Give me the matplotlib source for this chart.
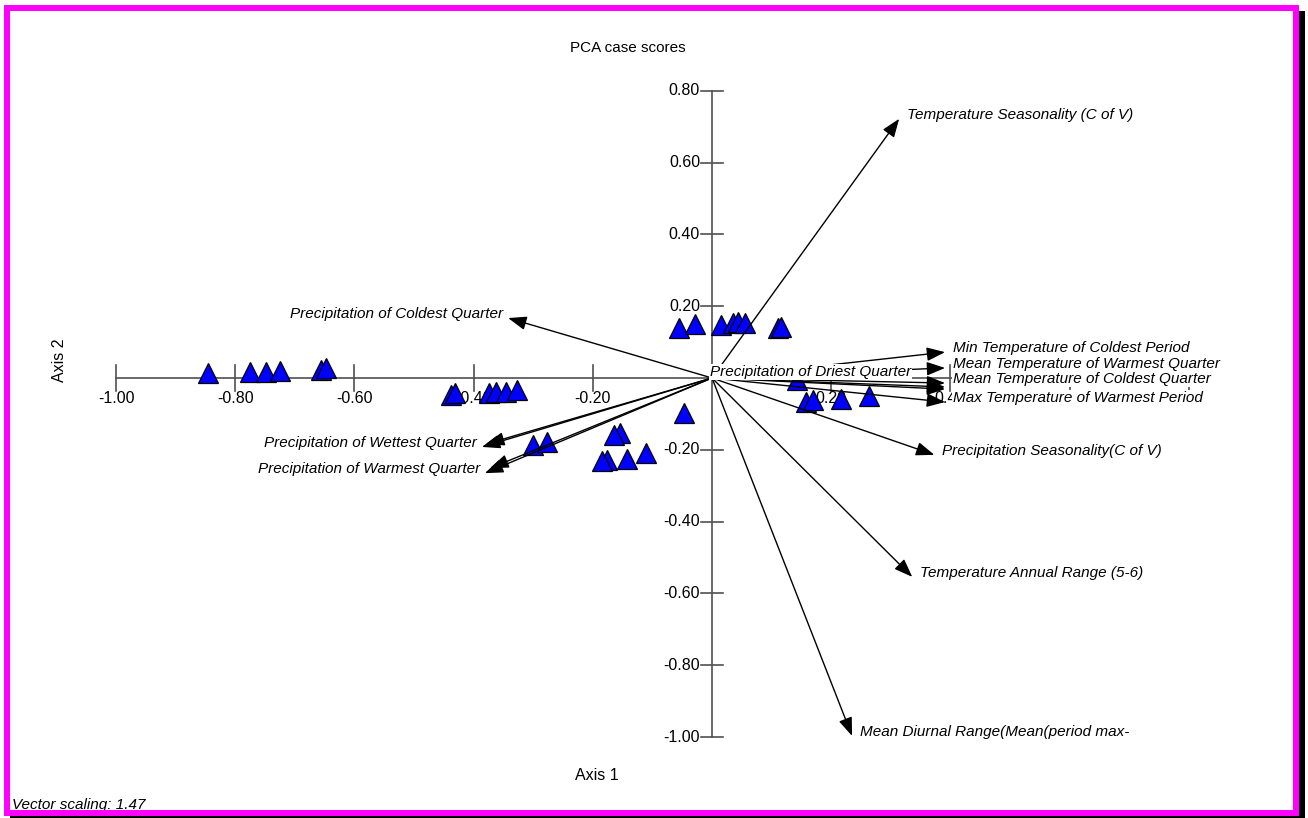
import matplotlib.pyplot as plt
from matplotlib.patches import Rectangle

plt.rcParams['font.family'] = ['Liberation Sans', 'DejaVu Sans']

# PCA case scores (axis 1, axis 2)
score_x = [-0.845, -0.776, -0.749, -0.725, -0.656, -0.648,
           -0.438, -0.432, -0.374, -0.363, -0.346, -0.327,
           -0.300, -0.277, -0.155, -0.164, -0.047, -0.177, -0.184, -0.143, -0.111,
           -0.056, -0.029, 0.015, 0.035, 0.044, 0.056, 0.110, 0.115,
           0.143, 0.158, 0.170, 0.217, 0.263]
score_y = [0.014, 0.017, 0.017, 0.019, 0.022, 0.028,
           -0.047, -0.042, -0.042, -0.039, -0.039, -0.033,
           -0.187, -0.178, -0.153, -0.159, -0.097, -0.228, -0.231, -0.226, -0.209,
           0.139, 0.150, 0.147, 0.153, 0.156, 0.153, 0.139, 0.142,
           -0.006, -0.067, -0.061, -0.058, -0.050]

# environmental vectors (already multiplied by the vector scaling)
vec_names = ['Temperature Seasonality (C of V)',
             'Precipitation of Coldest Quarter',
             'Min Temperature of Coldest Period',
             'Mean Temperature of Warmest Quarter',
             'Mean Temperature of Coldest Quarter',
             '',
             '',
             'Max Temperature of Warmest Period',
             'Precipitation of Driest Quarter',
             'Precipitation Seasonality(C of V)',
             'Temperature Annual Range (5-6)',
             'Mean Diurnal Range(Mean(period max-',
             'Precipitation of Wettest Quarter',
             '',
             'Precipitation of Warmest Quarter',
             '']
vec_x = [0.314, -0.342, 0.391, 0.391, 0.391, 0.391, 0.391, 0.391, -0.017,
         0.373, 0.336, 0.235, -0.386, -0.379, -0.381, -0.372]
vec_y = [0.722, 0.167, 0.072, 0.028, -0.014, -0.025, -0.031, -0.067, 0.005,
         -0.214, -0.554, -0.997, -0.192, -0.184, -0.265, -0.251]

xticks = [-1.0, -0.8, -0.6, -0.4, -0.2, 0.2, 0.4, 0.6, 0.8]
xtick_labels = ['-1.00', '-0.80', '-0.60', '-0.40', '-0.20', '0.20', '0.40', '', '']
yticks = [0.8, 0.6, 0.4, 0.2, -0.2, -0.4, -0.6, -0.8, -1.0]

W, H = 1308, 818
fig = plt.figure(figsize=(W / 100, H / 100), dpi=100)
ax = fig.add_axes([0, 0, 1, 1])
ax.set_xlim((0 - 712) / 596, (W - 712) / 596)
ax.set_ylim((378 - H) / 359, 378 / 359)
ax.axis('off')

axis_col = '#505050'
ax.plot([-1.0, 0.8], [0, 0], color=axis_col, lw=1.2, zorder=1)
ax.plot([0, 0], [-1.0, 0.8], color=axis_col, lw=1.2, zorder=1)
for t, lab in zip(xticks, xtick_labels):
    ax.plot([t, t], [-0.036, 0.036], color=axis_col, lw=1.2, zorder=1)
    ax.text(t, -0.056, lab, ha='center', va='center', fontsize=11.5, zorder=2)
for t in yticks:
    ax.plot([-0.0185, 0.0185], [t, t], color=axis_col, lw=1.2, zorder=1)
    ax.text(-0.020, t, '%.2f' % t, ha='right', va='center', fontsize=11.5, zorder=2)

ax.plot(score_x, score_y, '^', ms=14, mfc='#0000ff', mec='black', mew=0.9, zorder=3)

for name, vx, vy in zip(vec_names, vec_x, vec_y):
    if (vx ** 2 + vy ** 2) ** 0.5 > 0.05:
        ax.annotate('', xy=(vx, vy), xytext=(0, 0),
                    arrowprops=dict(arrowstyle='-|>,head_length=0.8,head_width=0.3',
                                    mutation_scale=14, color='black', lw=1,
                                    shrinkA=0, shrinkB=0), zorder=4)
    if not name:
        continue
    if vx >= -0.02:
        off, ha = (8, 4), 'left'
    else:
        off, ha = (-5, 4), 'right'
    ax.annotate(name, xy=(vx, vy), xytext=off, textcoords='offset pixels',
                ha=ha, va='center', fontsize=11, style='italic', zorder=5,
                bbox=dict(boxstyle='square,pad=0.05', fc='white', ec='none'))

fig.text(628 / W, 1 - 48 / H, 'PCA case scores', ha='center', va='center', fontsize=11)
fig.text(597 / W, 1 - 776 / H, 'Axis 1', ha='center', va='center', fontsize=11.5)
fig.text(60 / W, 1 - 360 / H, 'Axis 2', ha='center', va='center', fontsize=11.5, rotation=90)
fig.text(12 / W, 1 - 805 / H, 'Vector scaling: 1.47', ha='left', va='center',
         fontsize=11, style='italic')


def frame_rect(x0, y0, x1, y1, color):
    fig.add_artist(Rectangle((x0 / W, 1 - y1 / H), (x1 - x0) / W, (y1 - y0) / H,
                             transform=fig.transFigure, color=color, lw=0, zorder=10))


# shadow then magenta border
frame_rect(1299, 11, 1305, 818, 'black')
frame_rect(10, 816, 1305, 818, 'black')
frame_rect(4, 5, 1299, 11, '#ff00ff')
frame_rect(4, 810, 1299, 816, '#ff00ff')
frame_rect(4, 5, 10, 816, '#ff00ff')
frame_rect(1293, 5, 1299, 816, '#ff00ff')

fig.savefig('out.png', dpi=100)
